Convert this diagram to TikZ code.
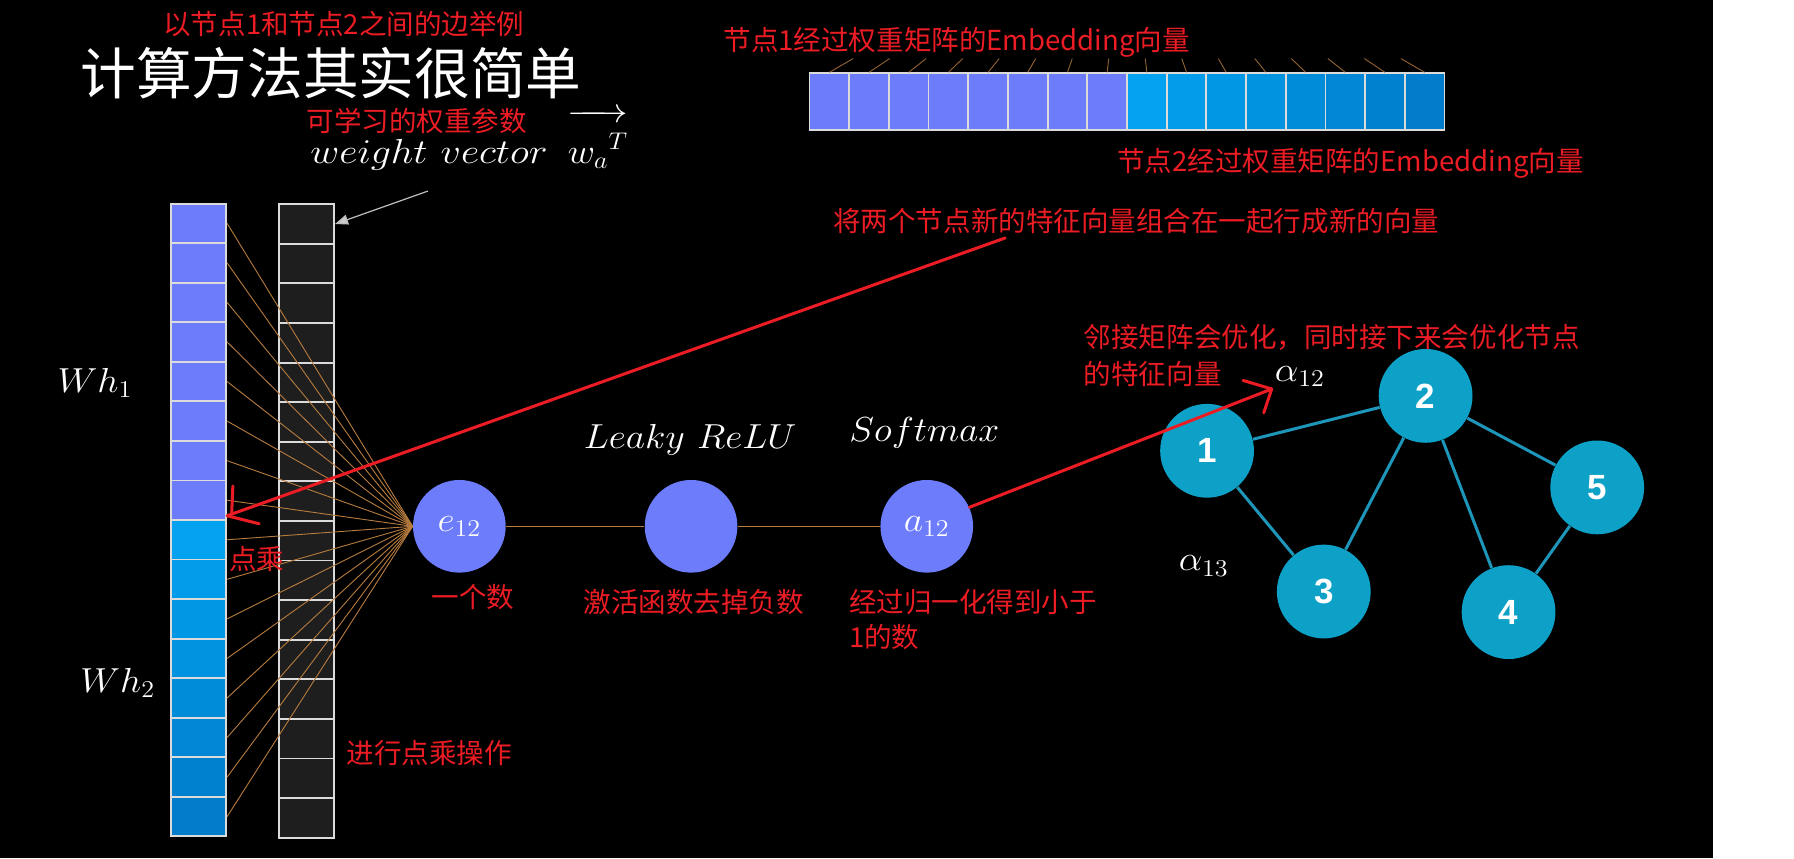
\documentclass[tikz,border=0pt]{standalone}
\usepackage{fontspec}
\newfontfamily\cjk{Noto Sans CJK SC}
\newfontfamily\numfont{Liberation Sans}
\usetikzlibrary{arrows.meta,calc}

\definecolor{annot}{RGB}{235,28,36}
\definecolor{purp}{RGB}{108,124,250}
\definecolor{skyA}{RGB}{2,162,240}
\definecolor{skyB}{RGB}{0,124,202}
\definecolor{cellgrey}{RGB}{30,30,30}
\definecolor{nodecyan}{RGB}{14,161,199}
\definecolor{edgecyan}{RGB}{30,150,186}
\definecolor{fan}{RGB}{182,124,62}

% slightly widened math italic, closer to the slide's equation font
\newcommand{\mathwide}[1]{\scalebox{1.08}[1]{$#1$}}

\begin{document}
\begin{tikzpicture}[
  x=0.02cm, y=-0.02cm,
  note/.style={text=annot, font=\cjk\fontsize{13.7}{16}\selectfont, inner sep=0pt, anchor=west},
  mlabel/.style={text=white, font=\fontsize{18.8}{20}\selectfont, inner sep=0pt, anchor=base west},
  vcell/.style={draw=white!86!black, line width=0.9pt, minimum width=0.97cm, minimum height=0.691cm, inner sep=0pt},
  hcell/.style={draw=white!86!black, line width=0.9pt, minimum width=0.694cm, minimum height=0.99cm, inner sep=0pt},
  unit/.style={circle, fill=purp, minimum size=1.62cm, inner sep=0pt, text=white, font=\fontsize{18.8}{20}\selectfont},
  gnode/.style={circle, fill=nodecyan, minimum size=1.64cm, inner sep=0pt, text=white, font=\numfont\bfseries\fontsize{17.4}{20}\selectfont},
  gedge/.style={draw=edgecyan, line width=1.5pt},
  wire/.style={draw=fan, line width=0.45pt},
  redline/.style={draw=annot, line width=1.5pt, line cap=round, line join=round},
]

% background, black slide with white strip on the right
\fill[black] (0,0) rectangle (1497,750);
\fill[white] (1497,0) rectangle (1568,750);
\useasboundingbox (0,0) rectangle (1568,750);

% title and top notes
\node[text=white, font=\cjk\fontsize{27.7}{30}\selectfont, inner sep=0pt, anchor=west] (title) at (70,64) {计算方法其实很简单};
\node[note] (example) at (142.5,21) {以节点1和节点2之间的边举例};
\node[note] (learn) at (267.5,106) {可学习的权重参数};
\node[mlabel] (wvec) at (271,143) {\scalebox{1.15}[1]{$weight\ vector$}};
\node[mlabel] (wa) at (496,143) {\mathwide{\overrightarrow{\rule{0pt}{1.15em}{w_a}^{T}}}};

% Wh column (node 1 on top, node 2 below)
\foreach \i in {1,...,8}
  \node[vcell, fill=purp] (wh\i) at (173.5,{178+34.56*(\i-0.5)}) {};
\foreach \i [evaluate=\i as \pct using {int(100-(\i-9)*14.2)}] in {9,...,16}
  \node[vcell, fill=skyA!\pct!skyB] (wh\i) at (173.5,{178+34.56*(\i-0.5)}) {};

% weight column
\foreach \i in {1,...,16}
  \node[vcell, fill=cellgrey] (bk\i) at (267.8,{178.5+34.6*(\i-0.5)}) {};

\node[mlabel] (whone) at (50,343) {\mathwide{Wh_1}};
\node[mlabel] (whtwo) at (70,605) {\mathwide{Wh_2}};

% pointer to the weight vector
\coordinate (gtail) at (374,167);
\draw[draw=black!25, line width=0.6pt, -{Triangle[length=6.5pt, width=5pt, fill=white!80!black]}] (gtail) -- (bk1.east);

% three units
\node[unit] (e12) at (401.5,460) {\mathwide{e_{12}}};
\node[unit] (lrelu) at (604,460) {};
\node[unit] (a12) at (810,460) {\mathwide{a_{12}}};
\draw[wire] (e12) -- (lrelu);
\draw[wire] (lrelu) -- (a12);

% dot product fan
\foreach \i in {1,...,16}
  \draw[wire] (wh\i.east) -- (e12.west);

\node[mlabel] (lrtext) at (510,392) {\mathwide{Leaky\ ReLU}};
\node[mlabel] (smtext) at (742,386) {\mathwide{Softmax}};

\node[note] (onenum) at (377,521.5) {一个数};
\node[note] (actnote) at (509.7,526) {激活函数去掉负数};
\node[note] (normnote) at (741.8,526) {经过归一化得到小于};
\node[note] (normnote2) at (741.8,556.5) {1的数};
\node[note] (dotnote) at (200,489) {点乘};
\node[note] (dotop) at (302.7,658.5) {进行点乘操作};

% concatenated embedding
\foreach \i in {1,...,8}
  \node[hcell, fill=purp] (ev\i) at ({707.5+34.69*(\i-0.5)},88.75) {};
\foreach \i [evaluate=\i as \pct using {int(100-(\i-9)*14.2)}] in {9,...,16}
  \node[hcell, fill=skyA!\pct!skyB] (ev\i) at ({707.5+34.69*(\i-0.5)},88.75) {};
\coordinate (apex) at (985,-87);
\foreach \i in {1,...,16}
  \draw[draw=fan!80!black, line width=0.45pt] (ev\i.north) -- ($(ev\i.north)!0.08!(apex)$);

\node[note] (emb1) at (632,37) {节点1经过权重矩阵的Embedding向量};
\node[note, anchor=east] (emb2) at (1384.5,143) {节点2经过权重矩阵的Embedding向量};
\node[note] (concat) at (728,193) {将两个节点新的特征向量组合在一起行成新的向量};

% graph
\node[gnode] (n1) at (1055,394) {1};
\node[gnode] (n2) at (1246,346) {2};
\node[gnode] (n3) at (1157,517) {3};
\node[gnode] (n4) at (1318.5,535) {4};
\node[gnode] (n5) at (1396,426) {5};
\draw[gedge] (n1) -- (n2);
\draw[gedge] (n1) -- (n3);
\draw[gedge] (n2) -- (n3);
\draw[gedge] (n2) -- (n4);
\draw[gedge] (n2) -- (n5);
\draw[gedge] (n5) -- (n4);

\node[mlabel] (al12) at (1114,333.5) {\mathwide{\alpha_{12}}};
\node[mlabel] (al13) at (1030,499) {\mathwide{\alpha_{13}}};

\node[note] (adjnote) at (947,294.5) {邻接矩阵会优化，同时接下来会优化节点};
\node[note] (adjnote2) at (947,326.5) {的特征向量};

% hand drawn red arrows
\coordinate (rstart) at (878.5,208);
\coordinate (rtip) at ($(wh8.south east)+(0,-4.5)$);
\draw[redline] (rstart) -- (rtip);
\draw[redline] ($(rtip)+(5,-26)$) -- ($(rtip)+(4,-3)$);
\draw[redline] (rtip) -- ++(28,7);

\coordinate (btip) at (1111.5,340);
\draw[redline] (a12.24) -- (btip);
\draw[redline] ($(btip)+(-25,-7.5)$) -- (btip) -- ++(-7,21);

\end{tikzpicture}
\end{document}
